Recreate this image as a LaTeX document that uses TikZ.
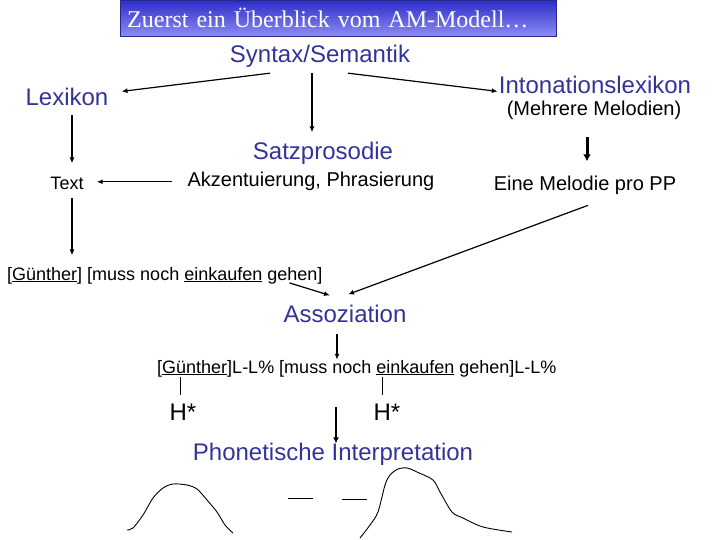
\documentclass[tikz,border=0pt]{standalone}
\usepackage{fontspec}
\setmainfont{Liberation Sans}
\newfontfamily\titlefont{Liberation Serif}
\usetikzlibrary{arrows.meta}
\definecolor{amblue}{RGB}{51,51,153}
\definecolor{bartop}{RGB}{45,45,200}
\definecolor{barbottom}{RGB}{140,140,245}
\definecolor{barline}{RGB}{40,40,140}
\begin{document}
\begin{tikzpicture}[
  x=1pt, y=-1pt,
  headword/.style={anchor=base, inner sep=0pt, text=amblue, font=\fontsize{24}{28}\selectfont},
  plainword/.style={anchor=base, inner sep=0pt, font=\fontsize{20}{24}\selectfont},
  smallword/.style={anchor=base, inner sep=0pt, font=\fontsize{18}{22}\selectfont},
  toneword/.style={anchor=base, inner sep=0pt, font=\fontsize{24}{28}\selectfont},
  titlebar/.style={anchor=north west, draw=barline, top color=bartop, bottom color=barbottom,
    minimum width=436pt, minimum height=36pt, text width=422pt, inner xsep=7pt, inner ysep=0pt,
    align=left, text=white, font=\titlefont\fontsize{24}{28}\selectfont},
  arr/.style={line width=1.2pt, -{Latex[length=6pt,width=5pt]}},
  thickarr/.style={line width=3pt, -{Latex[length=7pt,width=8pt]}},
  curve/.style={line width=0.9pt, line join=round}
]
  \useasboundingbox (0,0) rectangle (720,540);

  % Titelbalken
  \node[titlebar] (title) at (120,0) {Zuerst ein Überblick vom AM-Modell…};

  % Obere Ebene
  \node[headword] (syn) at (320,63) {Syntax/Semantik};
  \node[headword] (lex) at (67,106) {Lexikon};
  \node[headword] (into) at (595,94) {Intonationslexikon};
  \node[plainword] (mel) at (594,116) {(Mehrere Melodien)};

  % Mittlere Ebene
  \node[headword] (satz) at (323,160) {Satzprosodie};
  \node[plainword] (akz) at (311,187) {Akzentuierung, Phrasierung};
  \node[smallword] (txt) at (67,190) {Text};
  \node[plainword] (eine) at (585,191) {Eine Melodie pro PP};

  % Satz und Assoziation
  \node[smallword, anchor=base west] (sent1) at (7,280)
    {[\underline{Günther}] [muss noch \underline{einkaufen} gehen]};
  \node[headword] (asso) at (345,322) {Assoziation};
  \node[smallword, anchor=base west] (sent2) at (157,373)
    {[\underline{Günther}]L-L\% [muss noch \underline{einkaufen} gehen]L-L\%};
  \node[toneword] (h1) at (183,420) {H*};
  \node[toneword] (h2) at (387,420) {H*};
  \node[headword] (phon) at (333,460) {Phonetische Interpretation};

  % Pfeile
  \draw[arr] ([xshift=-50pt,yshift=-5pt]syn.south) -- ([xshift=13pt,yshift=6pt]lex.east);
  \draw[arr] ([xshift=28pt,yshift=-5pt]syn.south) -- ([xshift=-1pt,yshift=-6pt]into.west);
  \draw[arr] ([xshift=-8pt,yshift=-5pt]syn.south) -- ([xshift=-11pt,yshift=10pt]satz.north);
  \draw[arr] ([xshift=5pt,yshift=-9pt]lex.south) -- ([xshift=5pt,yshift=14pt]txt.north);
  \draw[thickarr] ([xshift=-7pt,yshift=-17pt]mel.south) -- ([xshift=2pt,yshift=15pt]eine.north);
  \draw[arr] ([xshift=-15pt]akz.west) -- ([xshift=13pt]akz.west -| txt.east);
  \draw[arr] ([xshift=5pt,yshift=-8pt]txt.south) -- ([xshift=5pt,yshift=-65pt]txt.south);
  \draw[arr] ([xshift=3pt,yshift=-10pt]eine.south) -- ([xshift=3pt,yshift=10pt]asso.north);
  \draw[arr] ([xshift=-33pt,yshift=1pt]sent1.south east) -- ([xshift=-15pt,yshift=9pt]asso.north);
  \draw[arr] ([xshift=-8pt,yshift=-12pt]asso.south) -- ([xshift=-8pt]asso.south |- sent2.north);
  \draw[line width=2pt, -{Latex[length=6pt,width=6pt]}]
    ([xshift=3pt,yshift=35pt]phon.north) -- ([xshift=3pt,yshift=-1pt]phon.north);

  % Assoziationslinien
  \draw[line width=0.8pt] ([xshift=-3pt]h1.north |- sent2.south) -- ([xshift=-3pt,yshift=8pt]h1.north);
  \draw[line width=0.8pt] ([xshift=-5pt]h2.north |- sent2.south) -- ([xshift=-5pt,yshift=8pt]h2.north);

  % Melodiekurven
  \draw[curve] plot[smooth, tension=0.5] coordinates {(127,530) (133,528) (143,515) (153,498)
    (163,488) (173,484) (187,485) (197,489) (207,500) (217,512) (225,525) (233,533)};
  \draw[curve] (288,498) -- (313,498);
  \draw[curve] (342,499) -- (367,499);
  \draw[curve] plot[smooth, tension=0.5] coordinates {(360,538) (370,525) (378,512) (385,485)
    (390,475) (398,469) (407,468) (417,472) (433,480) (440,492) (452,512) (463,518) (483,527) (512,532)};
\end{tikzpicture}
\end{document}
